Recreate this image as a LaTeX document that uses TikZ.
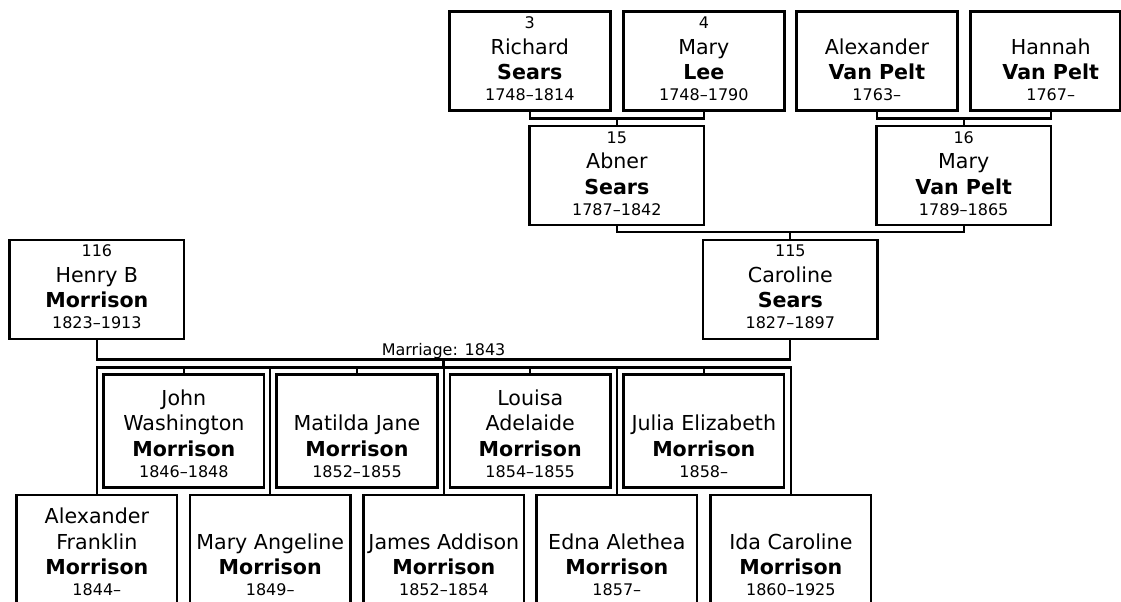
\documentclass[tikz,border=0pt]{standalone}
\usepackage{fontspec}
\setmainfont{DejaVu Sans}
\newcommand\pnamefont{\fontsize{15.45}{18}\selectfont}
\newcommand\psmallfont{\fontsize{12}{14}\selectfont}
\tikzset{
  pbox/.style={draw, rectangle, line width=1.9pt, inner sep=0pt},
  conn/.style={line width=1.7pt},
  txt/.style={anchor=base, inner sep=0pt},
  nm/.style={txt, font=\pnamefont},
  sn/.style={txt, font=\pnamefont\bfseries},
  sm/.style={txt, font=\psmallfont}
}
% #1 id, #2 cx, #3 top, #4 bottom, #5 width, #6 top line, #7 given, #8 surname, #9 years
\newcommand\person[9]{%
  \node[pbox, minimum width={#5*0.75pt}, minimum height={(#4-#3)*0.75pt}] (#1) at (#2,{(#3+#4)/2}) {};
  \if\relax\detokenize{#6}\relax\else\node[txt] (#1-t) at (#2,#4-82) {#6};\fi
  \node[nm] (#1-g) at (#2,#4-56.5) {#7};
  \node[sn] (#1-s) at (#2,#4-31) {#8};
  \node[sm] (#1-y) at (#2,#4-10) {#9};
}
\begin{document}
\begin{tikzpicture}[x=0.75pt, y=-0.75pt]
\useasboundingbox (0,0) rectangle (1121,601);
\clip (0,0) rectangle (1121,601);
% grandparents
\person{richard}{529.8}{11.7}{110.5}{161}{{\psmallfont 3}}{Richard}{Sears}{1748–1814}
\person{maryl}{703.85}{11.7}{110.5}{161}{{\psmallfont 4}}{Mary}{Lee}{1748–1790}
\person{alexvp}{876.85}{11.7}{110.5}{161}{}{Alexander}{Van Pelt}{1763–}
\node[pbox, minimum width={149.1*0.75pt}, minimum height={98.8*0.75pt}] (hannah) at (1045.25,61.1) {};
\node[nm] (hannah-g) at (1050.7,54) {Hannah};
\node[sn] (hannah-s) at (1050.7,79.5) {Van Pelt};
\node[sm] (hannah-y) at (1050.7,100.5) {1767–};
% parents of Caroline
\person{abner}{616.85}{126}{225}{174.3}{{\psmallfont 15}}{Abner}{Sears}{1787–1842}
\person{maryvp}{963.7}{126}{225}{174.3}{{\psmallfont 16}}{Mary}{Van Pelt}{1789–1865}
% couple
\person{henry}{96.85}{240}{338.8}{174.3}{{\psmallfont 116}}{Henry B}{Morrison}{1823–1913}
\person{caroline}{790.35}{240}{338.8}{174.3}{{\psmallfont 115}}{Caroline}{Sears}{1827–1897}
% children, upper row
\person{john}{183.85}{374.3}{487.3}{160.5}{{\pnamefont John}}{Washington}{Morrison}{1846–1848}
\person{matilda}{357}{374.3}{487.3}{160.5}{}{Matilda Jane}{Morrison}{1852–1855}
\person{louisa}{530.2}{374.3}{487.3}{160.5}{{\pnamefont Louisa}}{Adelaide}{Morrison}{1854–1855}
\person{julia}{703.8}{374.3}{487.3}{160.5}{}{Julia Elizabeth}{Morrison}{1858–}
% children, lower row
\person{alexf}{96.85}{495}{605.7}{160.5}{{\pnamefont Alexander}}{Franklin}{Morrison}{1844–}
\person{maryang}{270.2}{495}{605.7}{160.5}{}{Mary Angeline}{Morrison}{1849–}
\person{james}{443.85}{495}{605.7}{160.5}{}{James Addison}{Morrison}{1852–1854}
\person{edna}{616.85}{495}{605.7}{160.5}{}{Edna Alethea}{Morrison}{1857–}
\person{ida}{790.85}{495}{605.7}{160.5}{}{Ida Caroline}{Morrison}{1860–1925}
% connector levels
\coordinate (bar1) at (616.85,118.5);
\coordinate (bar2) at (963.7,118.5);
\coordinate (bar3) at (790.35,232.3);
\coordinate (mbar) at (443.6,359.5);
\coordinate (cbar) at (443.6,367.5);
% connectors
\draw[conn] (richard.south) |- (bar1) -| (maryl.south);
\draw[conn] (bar1) -- (abner.north);
\draw[conn] (alexvp.south) |- (bar2) -| (hannah-s |- hannah.south);
\draw[conn] (bar2) -- (maryvp.north);
\draw[conn] (abner.south) |- (bar3) -| (maryvp.south);
\draw[conn] (bar3) -- (caroline.north);
\draw[conn] (henry.south) |- (mbar) -| (caroline.south);
\node[sm] (mlabel) at (443.6,355) {Marriage: 1843};
\draw[conn] (mbar) -- (cbar);
\draw[conn] (alexf.north) |- (cbar) -| (ida.north);
\foreach \c in {maryang,james,edna,john,matilda,louisa,julia}
  \draw[conn] (\c.north) -- (\c.north |- cbar);
\end{tikzpicture}
\end{document}
